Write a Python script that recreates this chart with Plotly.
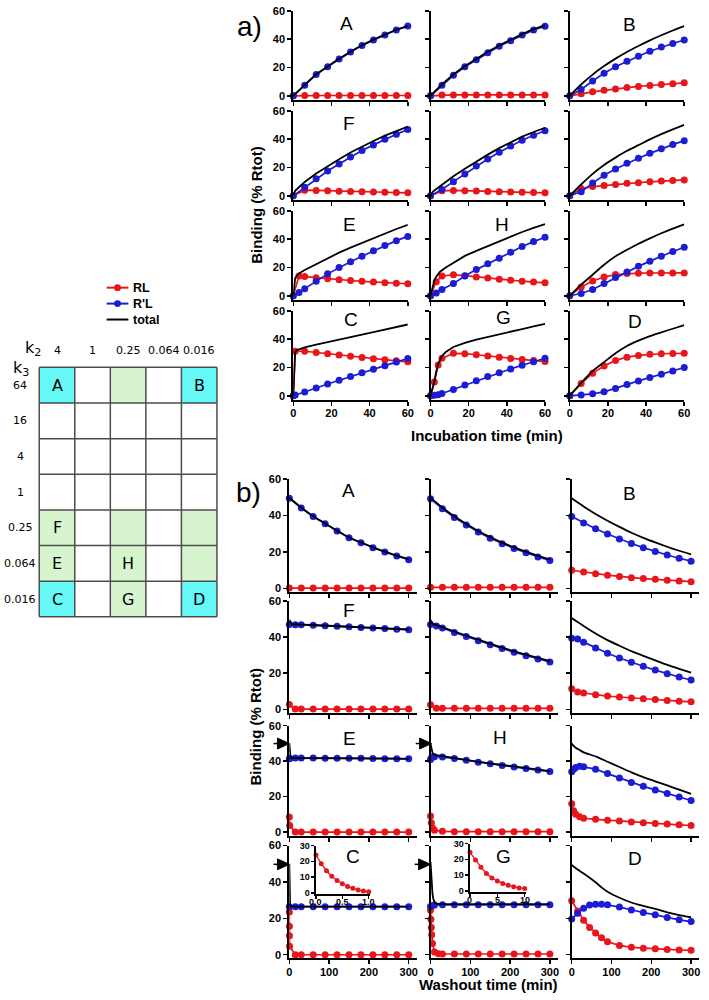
import plotly.graph_objects as go

W, H = 709, 1000
RED = "#E8161B"
BLUE = "#1C1CD2"
BLACK = "#000000"

# ---------------- data: incubation (panel a) ----------------
T6 = [0, 6, 12, 18, 24, 30, 36, 42, 48, 54, 60]
T6E = [0, 1, 2, 6, 12, 18, 24, 30, 36, 42, 48, 54, 60]
T3 = [0, 3, 6, 12, 18, 24, 30, 36, 42, 48, 54, 60]

inc11_rl = [0, 0.2, 0.2, 0.2, 0.2, 0.2, 0.2, 0.2, 0.2, 0.2, 0.2]
inc11_rpl = [0, 7.5, 15.0, 20.5, 26.0, 31.0, 35.5, 39.5, 43.0, 46.5, 49.3]
inc11_tot = [0, 7.7, 15.2, 20.7, 26.2, 31.2, 35.7, 39.7, 43.2, 46.7, 49.5]

inc12_rl = [0, 0.5, 0.6, 0.6, 0.6, 0.6, 0.6, 0.6, 0.6, 0.6, 0.6]
inc12_rpl = [0, 7.5, 14.5, 20.5, 25.5, 30.5, 35.0, 39.0, 43.0, 46.5, 49.2]
inc12_tot = [0, 8.0, 15.1, 21.1, 26.1, 31.1, 35.6, 39.6, 43.6, 47.1, 49.8]

inc13_rl = [0, 1.5, 2.8, 3.9, 4.9, 5.8, 6.6, 7.3, 8.0, 8.6, 9.2]
inc13_rpl = [0, 4.5, 10.5, 16.0, 20.5, 24.5, 28.0, 31.5, 34.5, 37.0, 39.5]
inc13_tot = [0, 8.0, 15.0, 21.0, 26.3, 31.0, 35.2, 39.2, 42.8, 46.2, 49.3]

inc21_rl = [0, 4.0, 3.8, 3.5, 3.3, 3.1, 2.9, 2.7, 2.5, 2.3, 2.1]
inc21_rpl = [0, 6.0, 12.0, 17.5, 22.5, 27.5, 32.0, 36.0, 40.0, 43.5, 46.8]
inc21_tot = [0, 3.5, 4.8, 9.8, 15.8, 21.0, 25.8, 30.6, 34.9, 38.7, 42.5, 45.8, 48.9]

inc22_rl = [0, 3.5, 3.8, 3.6, 3.4, 3.1, 2.9, 2.7, 2.5, 2.3, 2.1]
inc22_rpl = [0, 4.5, 10.0, 15.5, 21.0, 26.0, 30.8, 35.2, 39.3, 42.8, 46.0]
inc22_tot = [0, 2.5, 3.8, 8.0, 13.8, 19.1, 24.4, 29.1, 33.7, 37.9, 41.8, 45.1, 48.1]

inc23_rl = [0, 5.2, 6.5, 7.3, 8.0, 8.8, 9.3, 9.9, 10.4, 10.8, 11.2]
inc23_rpl = [0, 2.8, 9.0, 14.5, 19.0, 23.0, 26.5, 30.0, 33.2, 36.2, 39.0]
inc23_tot = [0, 8.0, 15.5, 21.8, 27.0, 31.8, 35.8, 39.9, 43.6, 47.0, 50.2]

inc31_rl = [0, 14.0, 13.6, 12.8, 12.1, 11.4, 10.8, 10.2, 9.7, 9.2, 8.8, 8.5]
inc31_rpl = [0, 2.4, 5.0, 10.2, 15.5, 20.0, 24.0, 28.0, 31.8, 35.5, 39.0, 42.0]
inc31_tot_t = [0, 0.5, 1, 2, 3, 6, 12, 18, 24, 30, 36, 42, 48, 54, 60]
inc31_tot = [0, 8.0, 12.5, 14.5, 15.8, 18.2, 22.5, 26.8, 30.5, 34.0, 37.4, 40.8, 44.0, 47.2, 50.2]

inc32_rl = [0, 10.0, 14.0, 14.8, 14.2, 13.3, 12.5, 11.7, 11.0, 10.3, 9.7, 9.2]
inc32_rpl = [0, 2.0, 4.5, 8.6, 14.0, 18.5, 22.7, 26.6, 30.8, 34.8, 38.3, 41.4]
inc32_tot_t = [0, 1, 2, 3, 5, 8, 12, 18, 24, 30, 36, 42, 48, 54, 60]
inc32_tot = [0, 6.0, 11.0, 13.5, 17.0, 20.0, 23.4, 28.2, 31.8, 35.2, 38.3, 41.8, 45.1, 48.0, 50.6]

inc33_rl = [0, 6.3, 10.5, 13.3, 15.0, 15.7, 16.0, 16.1, 16.2, 16.2, 16.2]
inc33_rpl = [0, 1.6, 4.4, 8.6, 12.9, 16.8, 20.8, 24.5, 28.0, 31.3, 34.3]
inc33_tot = [0, 7.9, 14.9, 21.9, 27.9, 32.5, 36.8, 40.6, 44.2, 47.5, 50.5]

inc41_t = [0, 1, 6, 12, 18, 24, 30, 36, 42, 48, 54, 60]
inc41_rl = [0, 31.5, 31.5, 30.6, 29.7, 28.8, 28.0, 27.1, 26.2, 25.4, 24.7, 24.0]
inc41_rpl = [0, 0.5, 2.7, 5.5, 8.3, 11.0, 13.6, 16.2, 18.8, 21.3, 23.8, 26.4]
inc41_tot_t = [0, 0.3, 0.6, 1, 2, 6, 12, 18, 24, 30, 36, 42, 48, 54, 60]
inc41_tot = [0, 14.0, 25.0, 31.0, 32.3, 34.2, 36.1, 38.0, 39.7, 41.6, 43.3, 45.0, 46.7, 48.5, 50.4]

inc42_t = [0, 2, 4, 6, 12, 18, 24, 30, 36, 42, 48, 54, 60]
inc42_rl = [0, 9.7, 21.7, 26.5, 30.0, 29.8, 29.0, 28.1, 27.2, 26.4, 25.6, 24.9, 24.3]
inc42_rpl = [0, 0.3, 0.8, 1.6, 4.5, 7.6, 10.7, 13.6, 16.3, 19.0, 21.6, 24.1, 26.5]
inc42_tot_t = [0, 1, 2, 3, 4, 6, 8, 12, 18, 24, 30, 36, 42, 48, 54, 60]
inc42_tot = [0, 4.5, 10.0, 17.0, 22.5, 28.1, 31.0, 34.5, 37.4, 39.7, 41.7, 43.5, 45.4, 47.2, 49.0, 50.8]

inc43_rl = [0, 8.6, 16.0, 21.0, 25.0, 27.3, 28.5, 29.3, 29.7, 29.9, 30.0]
inc43_rpl = [0, 0.5, 1.4, 2.8, 5.1, 7.9, 10.5, 12.9, 15.2, 17.5, 20.0]
inc43_tot = [0, 9.1, 17.4, 23.8, 30.1, 35.2, 39.0, 42.2, 44.9, 47.4, 50.0]

# ---------------- data: washout (panel b) ----------------
T30 = [0, 30, 60, 90, 120, 150, 180, 210, 240, 270, 300]
T15 = [0, 15, 30, 60, 90, 120, 150, 180, 210, 240, 270, 300]
T15E = [0, 2, 5, 10, 15, 30, 60, 90, 120, 150, 180, 210, 240, 270, 300]

wash11_rl = [0.2, 0.2, 0.2, 0.2, 0.2, 0.2, 0.2, 0.2, 0.2, 0.2, 0.2]
wash11_rpl = [49.6, 44.2, 39.5, 35.5, 31.5, 27.8, 25.1, 22.4, 20.0, 17.8, 15.8]
wash11_tot = [49.8, 44.4, 39.7, 35.7, 31.7, 28.0, 25.3, 22.6, 20.2, 18.0, 16.0]

wash12_rl = [0.6, 0.6, 0.6, 0.6, 0.6, 0.6, 0.6, 0.6, 0.6, 0.6, 0.6]
wash12_rpl = [49.3, 43.8, 39.0, 34.8, 31.0, 27.6, 24.6, 22.0, 19.6, 17.3, 15.3]
wash12_tot = [49.9, 44.4, 39.6, 35.4, 31.6, 28.2, 25.2, 22.6, 20.2, 17.9, 15.9]

wash13_rl = [10.0, 9.0, 8.1, 7.3, 6.6, 5.9, 5.4, 5.0, 4.5, 4.1, 3.7]
wash13_rpl = [39.5, 36.0, 32.8, 29.9, 27.2, 24.7, 22.4, 20.3, 18.4, 16.6, 15.0]
wash13_tot = [49.5, 45.0, 40.9, 37.2, 33.8, 30.6, 27.8, 25.3, 22.9, 20.7, 18.7]

wash21_rl = [2.6, 0.1, 0.1, 0.1, 0.1, 0.1, 0.1, 0.1, 0.1, 0.1, 0.1, 0.1]
wash21_rpl = [47.0, 46.9, 46.8, 46.6, 46.3, 46.0, 45.7, 45.3, 45.0, 44.7, 44.4, 44.1]
wash21_tot = [49.6, 48.5, 47.5, 47.1, 47.0, 46.9, 46.7, 46.4, 46.1, 45.8, 45.4, 45.1, 44.8, 44.5, 44.2]

wash22_rl = [2.5, 0.5, 0.5, 0.5, 0.5, 0.5, 0.5, 0.5, 0.5, 0.5, 0.5, 0.5]
wash22_rpl = [47.0, 46.2, 45.0, 42.6, 40.3, 38.0, 35.8, 33.7, 31.6, 29.7, 27.9, 26.2]
wash22_tot = [49.5, 48.3, 47.5, 47.0, 46.7, 45.5, 43.1, 40.8, 38.5, 36.3, 34.2, 32.1, 30.2, 28.4, 26.7]

wash23_rl = [11.4, 9.5, 9.0, 8.1, 7.3, 6.8, 6.2, 5.8, 5.4, 4.9, 4.5, 4.1]
wash23_rpl = [39.3, 38.9, 37.2, 33.9, 31.0, 28.4, 26.0, 23.8, 21.7, 19.7, 17.9, 16.2]
wash23_tot = [50.5, 48.4, 46.2, 42.0, 38.3, 35.2, 32.2, 29.6, 27.1, 24.6, 22.4, 20.3]

wash31_t = [0, 1, 15, 30, 60, 90, 120, 150, 180, 210, 240, 270, 300]
wash31_rl = [8.5, 3.7, 0, 0, 0, 0, 0, 0, 0, 0, 0, 0, 0]
wash31_rpl = [41.3, 41.5, 41.8, 41.8, 41.8, 41.7, 41.7, 41.6, 41.6, 41.5, 41.4, 41.4, 41.3]
wash31_tot_t = [0, 0.5, 1, 2, 3, 5, 15, 30, 60, 90, 120, 150, 180, 210, 240, 270, 300]
wash31_tot = [50.0, 47.5, 45.2, 43.0, 42.2, 41.8, 41.8, 41.8, 41.8, 41.7, 41.7, 41.6, 41.6, 41.5, 41.5, 41.4, 41.3]

wash32_t = [0, 2, 5, 10, 30, 60, 90, 120, 150, 180, 210, 240, 270, 300]
wash32_rl = [9.0, 5.2, 2.4, 1.0, 0.4, 0.2, 0.2, 0.2, 0.2, 0.2, 0.2, 0.2, 0.2, 0.2]
wash32_rpl = [41.0, 41.8, 42.3, 42.5, 42.3, 41.5, 40.5, 39.4, 38.5, 37.6, 36.7, 35.8, 35.0, 34.2]
wash32_tot_t = [0, 1, 2, 5, 10, 30, 60, 90, 120, 150, 180, 210, 240, 270, 300]
wash32_tot = [50.0, 48.3, 47.0, 44.7, 43.5, 42.7, 41.7, 40.7, 39.6, 38.7, 37.8, 36.9, 36.0, 35.2, 34.4]

wash33_t = [0, 5, 10, 20, 30, 60, 90, 120, 150, 180, 210, 240, 270, 300]
wash33_rl = [16.0, 12.0, 10.0, 8.7, 7.8, 7.2, 6.7, 6.2, 5.7, 5.2, 4.8, 4.5, 4.1, 3.7]
wash33_rpl = [34.0, 35.5, 36.5, 37.2, 36.8, 35.5, 33.0, 30.5, 28.0, 25.8, 23.8, 21.8, 19.8, 17.8]
wash33_tot = [50.0, 48.6, 47.6, 46.3, 45.0, 42.7, 39.7, 36.7, 33.7, 31.0, 28.6, 26.3, 23.9, 21.5]

wash41_rl_t = [0, 0.15, 0.3, 0.55, 15, 30, 60, 90, 120, 150, 180, 210, 240, 270, 300]
wash41_rl = [23.5, 15.6, 10.5, 4.7, 0, 0, 0, 0, 0, 0, 0, 0, 0, 0, 0]
wash41_rpl = [26.4, 26.4, 26.4, 26.4, 26.4, 26.4, 26.4, 26.4, 26.4, 26.4, 26.4, 26.4]
wash41_tot_t = [0, 0.2, 0.5, 1, 2, 15, 300]
wash41_tot = [50.0, 43.0, 34.0, 29.0, 26.8, 26.4, 26.4]

wash42_rl_t = [0, 1, 2, 3, 5, 10, 20, 30, 60, 90, 120, 150, 180, 210, 240, 270, 300]
wash42_rl = [24.4, 19.5, 15.0, 11.0, 6.2, 1.5, 0.5, 0.4, 0.4, 0.4, 0.4, 0.4, 0.4, 0.4, 0.4, 0.4, 0.4]
wash42_rpl_t = [0, 5, 10, 30, 60, 90, 120, 150, 180, 210, 240, 270, 300]
wash42_rpl = [26.5, 27.0, 27.3, 27.4, 27.4, 27.4, 27.4, 27.4, 27.4, 27.4, 27.4, 27.4, 27.4]
wash42_tot_t = [0, 1, 2, 3, 5, 7, 10, 15, 20, 30, 300]
wash42_tot = [51.0, 46.3, 42.0, 38.2, 33.4, 30.8, 28.9, 28.0, 27.8, 27.8, 27.8]

wash43_t = [0, 15, 30, 45, 60, 75, 90, 120, 150, 180, 210, 240, 270, 300]
wash43_rl = [29.6, 24.0, 19.0, 15.0, 12.0, 9.3, 7.2, 5.1, 4.1, 3.6, 3.3, 2.9, 2.6, 2.4]
wash43_rpl = [19.7, 22.8, 25.6, 27.3, 27.8, 27.7, 27.4, 26.2, 24.6, 23.2, 21.9, 20.4, 19.2, 18.2]
wash43_tot = [49.3, 46.8, 44.6, 42.3, 39.8, 37.0, 34.6, 31.3, 28.7, 26.8, 25.2, 23.3, 21.8, 20.6]

# insets (RL during early washout)
insetC_t = [0, 0.1, 0.2, 0.3, 0.4, 0.5, 0.6, 0.7, 0.8, 0.9, 1.0]
insetC_rl = [24.0, 18.5, 14.0, 10.5, 7.8, 5.7, 4.0, 2.8, 1.8, 1.1, 0.6]
insetG_t = [0, 1, 2, 3, 4, 5, 6, 7, 8, 9, 10]
insetG_rl = [24.4, 19.5, 15.0, 11.0, 8.2, 6.2, 4.7, 3.5, 2.6, 1.8, 1.5]

# ticks / labels
Y_TICKS = [0, 20, 40, 60]
INC_X_TICKS = [0, 20, 40, 60]
WASH_X_TICKS = [0, 100, 200, 300]
INSET_Y_TICKS = [0, 10, 20, 30]
INSETC_X_TICKS = [0, 0.5, 1.0]
INSETC_X_TEXT = ["0.0", "0.5", "1.0"]
INSETG_X_TICKS = [0, 5, 10]
INSETG_X_TEXT = ["0", "5", "10"]
INC_LABELS = ["A", "", "B", "F", "", "", "E", "H", "", "C", "G", "D"]
WASH_LABELS = ["A", "", "B", "F", "", "", "E", "H", "", "C", "G", "D"]
K2_LABELS = ["4", "1", "0.25", "0.064", "0.016"]
K3_LABELS = ["64", "16", "4", "1", "0.25", "0.064", "0.016"]
CELL_LETTERS = {(0, 0): "A", (0, 4): "B", (4, 0): "F", (5, 0): "E", (5, 2): "H",
                (6, 0): "C", (6, 2): "G", (6, 4): "D"}
CYAN_CELLS = [(0, 0), (0, 4), (6, 0), (6, 4)]
GREEN_CELLS = [(0, 2), (4, 0), (4, 2), (4, 4), (5, 0), (5, 2), (5, 4), (6, 2)]
LEGEND_NAMES = ["RL", "R'L", "total"]

# ---------------- panel definitions ----------------
inc_panels = [
    (T6, inc11_rl, T6, inc11_rpl, T6, inc11_tot, True),
    (T6, inc12_rl, T6, inc12_rpl, T6, inc12_tot, True),
    (T6, inc13_rl, T6, inc13_rpl, T6, inc13_tot, True),
    (T6, inc21_rl, T6, inc21_rpl, T6E, inc21_tot, False),
    (T6, inc22_rl, T6, inc22_rpl, T6E, inc22_tot, False),
    (T6, inc23_rl, T6, inc23_rpl, T6, inc23_tot, True),
    (T3, inc31_rl, T3, inc31_rpl, inc31_tot_t, inc31_tot, False),
    (T3, inc32_rl, T3, inc32_rpl, inc32_tot_t, inc32_tot, False),
    (T6, inc33_rl, T6, inc33_rpl, T6, inc33_tot, True),
    (inc41_t, inc41_rl, inc41_t, inc41_rpl, inc41_tot_t, inc41_tot, False),
    (inc42_t, inc42_rl, inc42_t, inc42_rpl, inc42_tot_t, inc42_tot, False),
    (T6, inc43_rl, T6, inc43_rpl, T6, inc43_tot, True),
]
wash_panels = [
    (T30, wash11_rl, T30, wash11_rpl, T30, wash11_tot, True),
    (T30, wash12_rl, T30, wash12_rpl, T30, wash12_tot, True),
    (T30, wash13_rl, T30, wash13_rpl, T30, wash13_tot, True),
    (T15, wash21_rl, T15, wash21_rpl, T15E, wash21_tot, False),
    (T15, wash22_rl, T15, wash22_rpl, T15E, wash22_tot, False),
    (T15, wash23_rl, T15, wash23_rpl, T15, wash23_tot, True),
    (wash31_t, wash31_rl, wash31_t, wash31_rpl, wash31_tot_t, wash31_tot, False),
    (wash32_t, wash32_rl, wash32_t, wash32_rpl, wash32_tot_t, wash32_tot, False),
    (wash33_t, wash33_rl, wash33_t, wash33_rpl, wash33_t, wash33_tot, True),
    (wash41_rl_t, wash41_rl, T15, wash41_rpl, wash41_tot_t, wash41_tot, False),
    (wash42_rl_t, wash42_rl, wash42_rpl_t, wash42_rpl, wash42_tot_t, wash42_tot, False),
    (wash43_t, wash43_rl, wash43_t, wash43_rpl, wash43_t, wash43_tot, True),
]

# ---------------- geometry (pixels) ----------------
INC_COLS = [(294, 410), (433, 549), (574, 690)]
INC_ROWS = [(5, 95), (106, 196), (207, 297), (308, 398)]
WASH_COLS = [(290, 419), (433, 562), (576, 705)]
WASH_ROWS = [(478, 592), (601, 714), (727, 838), (848, 962)]
INC_LABEL_POS = [(348, 18), None, (635, 19), (350, 119), None, None,
                 (351, 221), (505, 221), None, (352, 317), (507, 315), (640, 319)]
WASH_LABEL_POS = [(350, 489), None, (635, 492), (350, 611), None, None,
                  (351, 740), (503, 739), None, (354, 859), (507, 859), (640, 861)]

TICKFONT = dict(family="Liberation Sans, Arial, sans-serif", size=11, color="black", weight="bold")

# negative standoff pulls x tick labels a bit closer to the axis (if supported)
try:
    go.layout.XAxis(ticklabelstandoff=-2)
    XSTAND = dict(ticklabelstandoff=-2)
except Exception:
    XSTAND = {}

fig = go.Figure()
axes_layout = {}
counter = [0]


def new_axes(xd, yd, xr, yr, xt, yt, showx, showy, xtext=None, lw=2.0, tl=4, tf=None):
    counter[0] += 1
    n = counter[0]
    s = "" if n == 1 else str(n)
    tf = tf or TICKFONT
    common = dict(ticks="outside", ticklen=tl, tickwidth=1.5, tickcolor="black",
                  showline=True, linewidth=lw, linecolor="black", showgrid=False,
                  zeroline=False, fixedrange=True, tickfont=tf, tickmode="array",
                  ticklabeloverflow="allow")
    xa = dict(domain=[xd[0] / W, xd[1] / W], range=xr, anchor="y" + s, tickvals=xt,
              showticklabels=showx, **common, **XSTAND)
    if xtext is not None:
        xa["ticktext"] = xtext
    ya = dict(domain=[1 - yd[1] / H, 1 - yd[0] / H], range=yr, anchor="x" + s, tickvals=yt,
              showticklabels=showy, **common)
    axes_layout["xaxis" + s] = xa
    axes_layout["yaxis" + s] = ya
    return "x" + s, "y" + s


def draw_panel(p, xa, ya, msize=7, lw=1.7):
    rl_t, rl, rpl_t, rpl, tot_t, tot, smooth = p
    fig.add_trace(go.Scatter(x=rl_t, y=rl, xaxis=xa, yaxis=ya, mode="lines+markers",
                             line=dict(color=RED, width=lw), marker=dict(size=msize, color=RED),
                             cliponaxis=False, showlegend=False, hoverinfo="skip"))
    fig.add_trace(go.Scatter(x=rpl_t, y=rpl, xaxis=xa, yaxis=ya, mode="lines+markers",
                             line=dict(color=BLUE, width=lw), marker=dict(size=msize, color=BLUE),
                             cliponaxis=False, showlegend=False, hoverinfo="skip"))
    fig.add_trace(go.Scatter(x=tot_t, y=tot, xaxis=xa, yaxis=ya, mode="lines",
                             line=dict(color=BLACK, width=1.8,
                                       shape="spline" if smooth else "linear", smoothing=0.6),
                             cliponaxis=False, showlegend=False, hoverinfo="skip"))


for i, p in enumerate(inc_panels):
    r, c = divmod(i, 3)
    xa, ya = new_axes(INC_COLS[c], INC_ROWS[r], [0, 60], [-3, 60], INC_X_TICKS, Y_TICKS,
                      showx=(r == 3), showy=(c == 0))
    draw_panel(p, xa, ya)

for i, p in enumerate(wash_panels):
    r, c = divmod(i, 3)
    xa, ya = new_axes(WASH_COLS[c], WASH_ROWS[r], [0, 320], [-2, 60], WASH_X_TICKS, Y_TICKS,
                      showx=(r == 3), showy=(c == 0))
    draw_panel(p, xa, ya)

INSET_FONT = dict(family="Liberation Sans, Arial, sans-serif", size=9, color="black", weight="bold")
ann = []

inset_specs = [
    ((317, 372), (848, 897), [0, 1.03], INSETC_X_TICKS, INSETC_X_TEXT, insetC_t, insetC_rl),
    ((473, 530), (846, 895), [0, 10.3], INSETG_X_TICKS, INSETG_X_TEXT, insetG_t, insetG_rl),
]
for xd, yd, xr, xt, xtt, tt, vv in inset_specs:
    xa, ya = new_axes(xd, yd, xr, [-0.8, 30], xt, INSET_Y_TICKS, False, True,
                      lw=1.5, tl=3, tf=INSET_FONT)
    fig.add_trace(go.Scatter(x=tt, y=vv, xaxis=xa, yaxis=ya, mode="lines+markers",
                             line=dict(color=RED, width=1.3), marker=dict(size=5, color=RED),
                             cliponaxis=False, showlegend=False, hoverinfo="skip"))
    # x tick labels placed on the inset's own x scale
    for v, s in zip(xt, xtt):
        ann.append(dict(x=v, xref=xa, y=1 - (yd[1] + 8) / H, yref="paper", text=s,
                        showarrow=False, xanchor="center", yanchor="middle",
                        font=INSET_FONT))

# ---------------- annotations ----------------


def text(x, y, s, size, bold=False, family="Liberation Sans, Arial, sans-serif", angle=0,
         xanchor="center"):
    ann.append(dict(x=x / W, y=1 - y / H, xref="paper", yref="paper", text=s, showarrow=False,
                    xanchor=xanchor, yanchor="middle", textangle=angle,
                    font=dict(family=family, size=size, color="black",
                              weight="bold" if bold else "normal")))


for lab, pos in zip(INC_LABELS, INC_LABEL_POS):
    if lab and pos:
        text(pos[0], pos[1], lab, 19)
for lab, pos in zip(WASH_LABELS, WASH_LABEL_POS):
    if lab and pos:
        text(pos[0], pos[1], lab, 19)

text(250, 21, "a)", 28)
text(249, 491, "b)", 28)
text(257, 201, "Binding (% Rtot)", 15, bold=True, angle=-90)
text(256, 728, "Binding (% Rtot)", 15, bold=True, angle=-90)
text(490, 434, "Incubation time (min)", 15, bold=True)
text(492, 988, "Washout time (min)", 15, bold=True)

# ---------------- shapes: table, legend, arrows ----------------
shapes = []


def P(x, y):
    return x / W, 1 - y / H


TL, TT, CS = 36.7, 365.0, 36.0
for (r, c) in CYAN_CELLS + GREEN_CELLS:
    col = "#66F7F7" if (r, c) in CYAN_CELLS else "#D6F5CE"
    x0, y0 = P(TL + c * CS, TT + r * CS)
    x1, y1 = P(TL + (c + 1) * CS, TT + (r + 1) * CS)
    shapes.append(dict(type="rect", xref="paper", yref="paper", x0=x0, x1=x1, y0=y1, y1=y0,
                       fillcolor=col, line=dict(width=0), layer="below"))
for c in range(6):
    x0, y0 = P(TL + c * CS, TT)
    x1, y1 = P(TL + c * CS, TT + 7 * CS)
    shapes.append(dict(type="line", xref="paper", yref="paper", x0=x0, x1=x1, y0=y0, y1=y1,
                       line=dict(color="#4d4d4d", width=1.5)))
for r in range(8):
    x0, y0 = P(TL, TT + r * CS)
    x1, y1 = P(TL + 5 * CS, TT + r * CS)
    shapes.append(dict(type="line", xref="paper", yref="paper", x0=x0, x1=x1, y0=y0, y1=y1,
                       line=dict(color="#4d4d4d", width=1.5)))

TFAM = "DejaVu Sans, Verdana, sans-serif"
for c, lab in enumerate(K2_LABELS):
    text(TL + c * CS + 18, 348, lab, 11, family=TFAM)
for r, lab in enumerate(K3_LABELS):
    text(17.5, TT + r * CS + 18, lab, 11, family=TFAM)
for (r, c), lab in CELL_LETTERS.items():
    text(TL + c * CS + 18, TT + r * CS + 18, lab, 16, family=TFAM)
text(30, 346, "k<sub>2</sub>", 16, family=TFAM)
text(18, 366, "k<sub>3</sub>", 16, family=TFAM)

# legend
for k, (name, colr) in enumerate(zip(LEGEND_NAMES, [RED, BLUE, BLACK])):
    yy = 284.5 + k * 16.1
    x0, y0 = P(105, yy)
    x1, y1 = P(127, yy)
    shapes.append(dict(type="line", xref="paper", yref="paper", x0=x0, x1=x1, y0=y0, y1=y1,
                       line=dict(color=colr, width=2)))
    if k < 2:
        cx0, cy0 = P(112.5, yy - 3.5)
        cx1, cy1 = P(119.5, yy + 3.5)
        shapes.append(dict(type="circle", xref="paper", yref="paper", x0=cx0, x1=cx1,
                           y0=cy1, y1=cy0, fillcolor=colr, line=dict(width=0)))
    text(130, yy, name, 12.5, bold=True, xanchor="left")

# arrows marking total at end of incubation
for (xl, xr, yc) in [(278, 290, 745), (422, 434, 745), (278, 290, 867), (421, 433, 867)]:
    a = P(xl, yc - 5.5)
    b = P(xr, yc)
    cc = P(xl, yc + 5.5)
    path = f"M {a[0]},{a[1]} L {b[0]},{b[1]} L {cc[0]},{cc[1]} Z"
    shapes.append(dict(type="path", xref="paper", yref="paper", path=path,
                       fillcolor="black", line=dict(color="black", width=1)))
    t0 = P(xl - 4, yc)
    t1 = P(xl, yc)
    shapes.append(dict(type="line", xref="paper", yref="paper", x0=t0[0], x1=t1[0],
                       y0=t0[1], y1=t1[1], line=dict(color="black", width=1.5)))

fig.update_layout(width=W, height=H, autosize=False, margin=dict(l=0, r=0, t=0, b=0),
                  paper_bgcolor="white", plot_bgcolor="rgba(0,0,0,0)",
                  showlegend=False, annotations=ann, shapes=shapes, **axes_layout)

fig.write_html("out.html", config={"displayModeBar": False, "staticPlot": True},
               post_script="document.body.style.margin='0';document.body.style.padding='0';"
                           "document.body.style.overflow='hidden';")
